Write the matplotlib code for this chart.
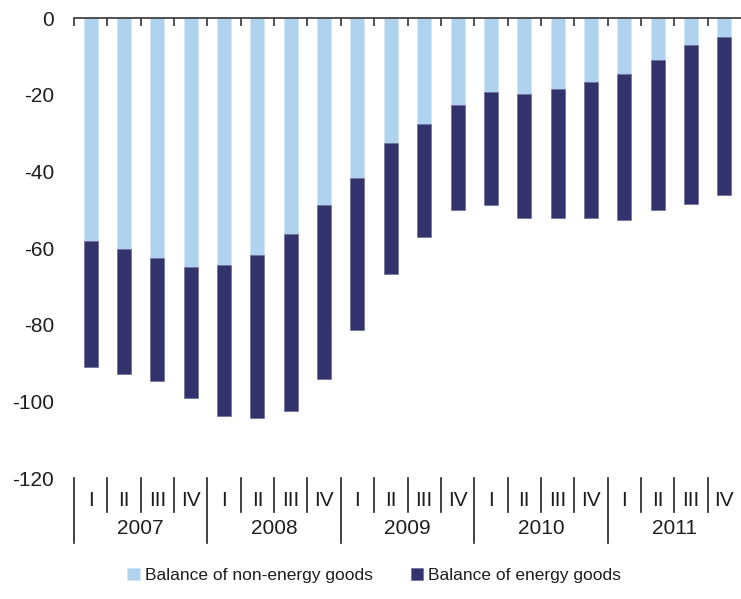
import matplotlib
matplotlib.use("Agg")
import matplotlib.pyplot as plt
import matplotlib.transforms as mtransforms
import numpy as np

plt.rcParams['font.family'] = ['Liberation Sans', 'DejaVu Sans']
plt.rcParams['axes.unicode_minus'] = False

years = ['2007', '2008', '2009', '2010', '2011']
quarters = ['I', 'II', 'III', 'IV']

# balances (bar segments, both negative)
non_energy = [-58.2, -60.3, -62.6, -65.0, -64.4, -61.8, -56.4, -48.7, -41.8, -32.7,
              -27.6, -22.7, -19.3, -19.9, -18.6, -16.7, -14.6, -11.0, -7.1, -5.0]
energy = [-32.9, -32.5, -32.1, -34.2, -39.3, -42.5, -46.2, -45.6, -39.5, -34.1,
          -29.4, -27.5, -29.4, -32.4, -33.7, -35.6, -38.1, -39.2, -41.3, -41.3]

light = '#afd2ee'
dark = '#32336c'
txt = '#1e1e1e'

fig = plt.figure(figsize=(7.41, 5.99), dpi=100)
ax = fig.add_axes([74 / 741, 121 / 599, 667 / 741, 460 / 599])

x = np.arange(len(non_energy))
ax.bar(x, non_energy, width=0.42, color=light, edgecolor='#d4e6f5', linewidth=0.5,
       label='Balance of non-energy goods')
ax.bar(x, energy, width=0.42, bottom=non_energy, color=dark, edgecolor='#6a6c96',
       linewidth=0.5, label='Balance of energy goods')

ax.set_xlim(-0.5, len(x) - 0.5)
ax.set_ylim(-120, 0)
ax.set_yticks(np.arange(-120, 1, 20))
ax.tick_params(axis='y', length=0, labelsize=15, labelcolor=txt, pad=14.2)

for s in ['left', 'right', 'bottom']:
    ax.spines[s].set_visible(False)
ax.spines['top'].set_color('#333333')
ax.spines['top'].set_linewidth(1.2)

# tick marks on the zero line between bars, pointing down
ax.set_xticks(x - 0.5)
ax.set_xticklabels([])
ax.tick_params(axis='x', bottom=False, top=True, direction='in', length=6,
               width=1.2, color='#333333')

# category axis below the plot
trans = mtransforms.blended_transform_factory(ax.transData, ax.transAxes)
px = 1 / 460  # one pixel in axes fraction
for i in x:
    q = i % 4
    ax.text(i, -22 * px, quarters[q], transform=trans, ha='center', va='center',
            fontsize=15, color=txt)
    depth = 65 if q == 0 else 34
    ax.plot([i - 0.5, i - 0.5], [0, -depth * px], transform=trans, color='#222222',
            lw=1.2, clip_on=False)
for k, yr in enumerate(years):
    ax.text(k * 4 + 1.5, -50 * px, yr, transform=trans, ha='center', va='center',
            fontsize=15, color=txt)

fig.legend(loc='lower center', bbox_to_anchor=(0.505, 0.0), ncol=2, frameon=False,
           fontsize=12.5, handlelength=0.7, handleheight=0.7, handletextpad=0.3,
           columnspacing=2.2, labelcolor=txt)

fig.savefig('out.png', dpi=100)
